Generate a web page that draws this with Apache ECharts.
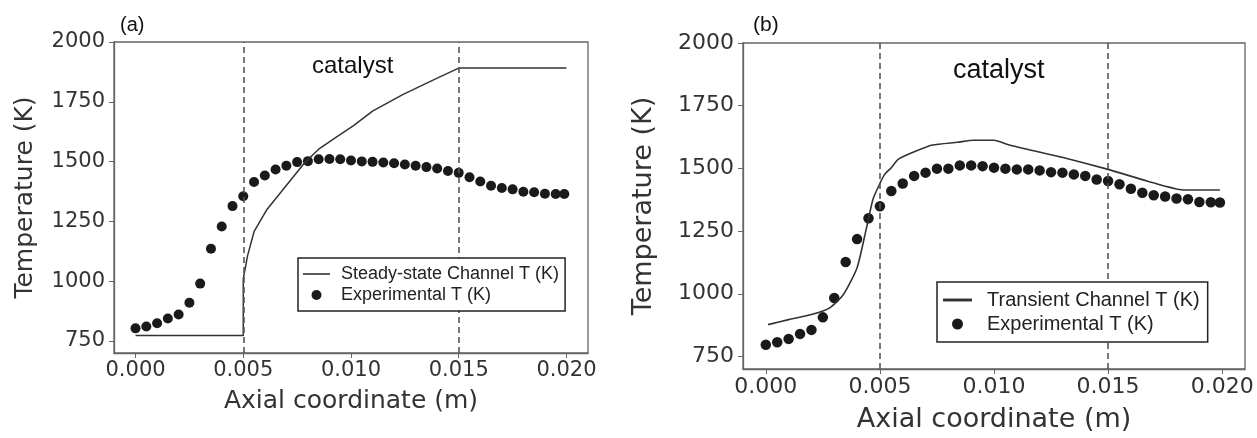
<!DOCTYPE html>
<html>
<head>
    <meta charset="UTF-8">
    <title>Axial temperature</title>
    <script src="https://cdn.jsdelivr.net/npm/echarts@6/dist/echarts.min.js"></script>
    <style>
        body { margin: 0; background: #fff; }
        #main { width: 1257px; height: 438px; }
    </style>
</head>
<body>
    <div id="main"></div>
    <script type="text/javascript">
        // 数据
        var expX = [0, 0.0005, 0.001, 0.0015, 0.002, 0.0025, 0.003, 0.0035, 0.004, 0.0045,
            0.005, 0.0055, 0.006, 0.0065, 0.007, 0.0075, 0.008, 0.0085, 0.009, 0.0095,
            0.010, 0.0105, 0.011, 0.0115, 0.012, 0.0125, 0.013, 0.0135, 0.014, 0.0145,
            0.015, 0.0155, 0.016, 0.0165, 0.017, 0.0175, 0.018, 0.0185, 0.019, 0.0195, 0.0199];
        var expTa = [803, 811, 824, 844, 861, 910, 990, 1136, 1229, 1314,
            1355, 1415, 1442, 1467, 1483, 1498, 1502, 1510, 1511, 1510,
            1505, 1501, 1499, 1496, 1493, 1488, 1483, 1477, 1471, 1461,
            1453, 1435, 1417, 1399, 1390, 1384, 1374, 1372, 1366, 1365, 1365];
        var expTb = [797, 807, 820, 840, 856, 906, 983, 1127, 1218, 1301,
            1349, 1410, 1440, 1470, 1483, 1499, 1499, 1512, 1512, 1509,
            1503, 1499, 1496, 1496, 1492, 1485, 1483, 1476, 1470, 1456,
            1450, 1437, 1419, 1403, 1393, 1388, 1380, 1377, 1366, 1365, 1364];

        // (a) steady-state channel
        var steadyX = [0, 0.005, 0.005, 0.0052, 0.0055, 0.0061, 0.0068, 0.0074, 0.0078, 0.0081,
            0.0085, 0.0093, 0.0101, 0.011, 0.0124, 0.014, 0.015, 0.02];
        var steadyT = [773, 773, 1010, 1107, 1207, 1300, 1378, 1445, 1490, 1517,
            1552, 1601, 1649, 1711, 1780, 1849, 1891, 1891];

        // (b) transient channel
        var transX = [0.0001, 0.001, 0.002, 0.0028, 0.0034, 0.004, 0.0044, 0.0047, 0.005, 0.0052,
            0.0055, 0.0058, 0.0064, 0.0073, 0.0084, 0.0091, 0.01, 0.0106, 0.0115, 0.0129,
            0.015, 0.0167, 0.0183, 0.0199];
        var transT = [877, 897, 917, 944, 997, 1104, 1258, 1378, 1440, 1475,
            1503, 1536, 1562, 1593, 1604, 1612, 1612, 1595, 1575, 1546,
            1496, 1450, 1414, 1414];

        var xTicks = [0, 0.005, 0.01, 0.015, 0.02];
        var yTicks = [750, 1000, 1250, 1500, 1750, 2000];
        var catalystBounds = [0.005, 0.015];

        function pairs(xs, ys) {
            var out = [];
            for (var i = 0; i < xs.length; i++) out.push([xs[i], ys[i]]);
            return out;
        }

        var axisGray = '#666';
        var textGray = '#333';
        var lineIcon = 'path://M0,0H30V1.8H0Z';

        function xAxisCfg(idx, fs, nameFs, nameGap) {
            return {
                type: 'value', gridIndex: idx, min: -0.001, max: 0.021,
                name: 'Axial coordinate (m)', nameLocation: 'middle', nameGap: nameGap,
                nameTextStyle: { fontFamily: 'DejaVu Sans', fontSize: nameFs, color: textGray },
                axisLine: { show: true, onZero: false, lineStyle: { color: axisGray, width: 1.3 } },
                axisTick: { show: true, length: 5, customValues: xTicks, lineStyle: { color: axisGray } },
                axisLabel: {
                    customValues: xTicks, margin: 7,
                    fontFamily: 'DejaVu Sans', fontSize: fs, color: textGray,
                    formatter: function (v) { return v.toFixed(3); }
                },
                splitLine: { show: false }
            };
        }
        function yAxisCfg(idx, fs, nameFs, nameGap) {
            return {
                type: 'value', gridIndex: idx, min: 700, max: 2000,
                name: 'Temperature (K)', nameLocation: 'middle', nameGap: nameGap, nameRotate: 90,
                nameTextStyle: { fontFamily: 'DejaVu Sans', fontSize: nameFs, color: textGray },
                axisLine: { show: true, onZero: false, lineStyle: { color: axisGray, width: 1.3 } },
                axisTick: { show: true, length: 5, customValues: yTicks, lineStyle: { color: axisGray } },
                axisLabel: {
                    customValues: yTicks, margin: 9,
                    fontFamily: 'DejaVu Sans', fontSize: fs, color: textGray,
                    formatter: function (v) { return String(v); }
                },
                splitLine: { show: false }
            };
        }

        // 催化剂区间的虚线
        function boundLine() {
            return {
                silent: true,
                symbol: ['none', 'none'],
                label: { show: false },
                lineStyle: { type: [6, 4], color: '#555', width: 1.6 },
                data: catalystBounds.map(function (v) {
                    return [{ coord: [v, 700] }, { coord: [v, 2000] }];
                })
            };
        }

        var myChart = echarts.init(document.getElementById('main'));
        myChart.setOption({
            animation: false,
            grid: [
                { left: 114, top: 42, width: 474, height: 311, show: true, borderColor: axisGray, borderWidth: 1.3 },
                { left: 743, top: 43, width: 502, height: 328, show: true, borderColor: axisGray, borderWidth: 1.3 }
            ],
            xAxis: [xAxisCfg(0, 21, 25, 36), xAxisCfg(1, 22, 27, 37)],
            yAxis: [yAxisCfg(0, 21, 25, 76), yAxisCfg(1, 22, 27, 86)],
            legend: [
                {
                    left: 298, top: 258, orient: 'vertical', z: 10,
                    backgroundColor: '#fff',
                    borderColor: '#222', borderWidth: 1.5, borderRadius: 0,
                    padding: [7, 6, 7, 5], itemWidth: 27, itemHeight: 10, itemGap: 3,
                    textStyle: { fontFamily: 'Liberation Sans', fontSize: 18, color: '#222', padding: [0, 0, 0, 6] },
                    data: [
                        { name: 'Steady-state Channel T (K)', icon: lineIcon },
                        { name: 'Experimental T (K)', icon: 'circle' }
                    ]
                },
                {
                    left: 937, top: 282, orient: 'vertical', z: 10,
                    backgroundColor: '#fff',
                    borderColor: '#222', borderWidth: 1.5, borderRadius: 0,
                    padding: [8, 8, 8, 6], itemWidth: 29, itemHeight: 11, itemGap: 4,
                    textStyle: { fontFamily: 'Liberation Sans', fontSize: 20, color: '#222', padding: [0, 0, 0, 10] },
                    data: [
                        { name: 'Transient Channel T (K)', icon: 'path://M0,0H30V3H0Z' },
                        { name: 'Experimental T (K)', icon: 'circle' }
                    ]
                }
            ],
            graphic: [
                { type: 'text', left: 120, top: 15, style: { text: '(a)', font: '20px "Liberation Sans"', fill: '#111' } },
                { type: 'text', left: 312, top: 54, style: { text: 'catalyst', font: '24px "Liberation Sans"', fill: '#111' } },
                { type: 'text', left: 753, top: 15, style: { text: '(b)', font: '21px "Liberation Sans"', fill: '#111' } },
                { type: 'text', left: 953, top: 57, style: { text: 'catalyst', font: '27px "Liberation Sans"', fill: '#111' } }
            ],
            series: [
                {
                    name: 'Steady-state Channel T (K)', type: 'line', xAxisIndex: 0, yAxisIndex: 0,
                    data: pairs(steadyX, steadyT), showSymbol: false, symbol: 'none',
                    lineStyle: { color: '#333', width: 1.5 }, itemStyle: { color: '#333' }
                },
                {
                    name: 'Experimental T (K)', type: 'scatter', xAxisIndex: 0, yAxisIndex: 0,
                    data: pairs(expX, expTa), symbolSize: 10, itemStyle: { color: '#1a1a1a', opacity: 1 },
                    markLine: boundLine()
                },
                {
                    name: 'Transient Channel T (K)', type: 'line', xAxisIndex: 1, yAxisIndex: 1,
                    data: pairs(transX, transT), showSymbol: false, symbol: 'none', smooth: 0.2,
                    lineStyle: { color: '#333', width: 1.6 }, itemStyle: { color: '#333' }
                },
                {
                    name: 'Experimental T (K)', type: 'scatter', xAxisIndex: 1, yAxisIndex: 1,
                    data: pairs(expX, expTb), symbolSize: 10.5, itemStyle: { color: '#1a1a1a', opacity: 1 },
                    markLine: boundLine()
                }
            ]
        });
    </script>
</body>
</html>
